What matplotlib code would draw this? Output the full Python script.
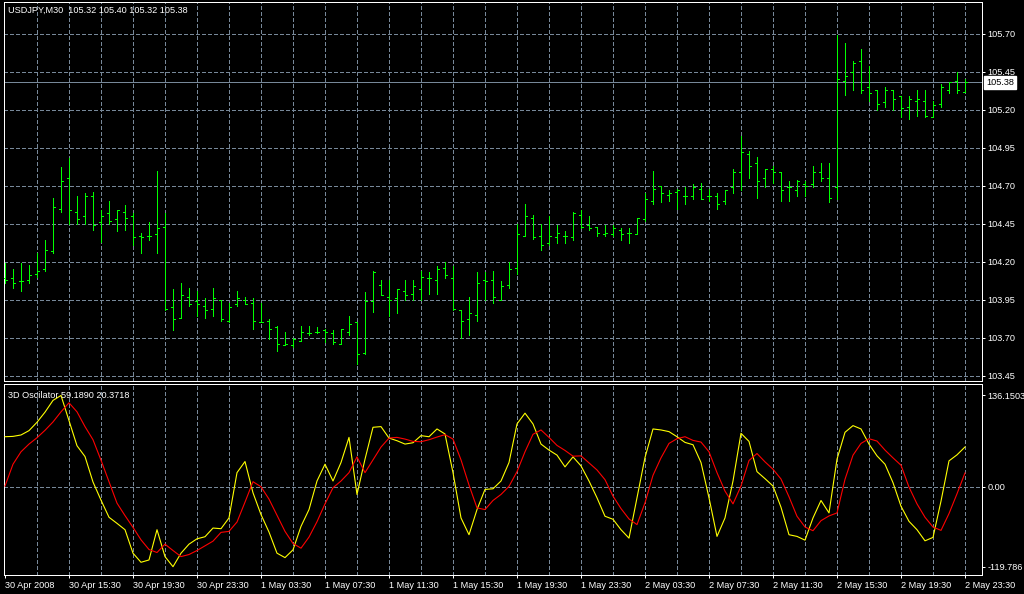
import matplotlib
matplotlib.use("Agg")
import matplotlib.pyplot as plt
from matplotlib.collections import LineCollection
import numpy as np

plt.rcParams['font.family'] = ['Liberation Sans', 'DejaVu Sans']

symbol_title = "USDJPY,M30"
osc_title = "3D Oscilator"

time_labels = ["30 Apr 2008", "30 Apr 15:30", "30 Apr 19:30", "30 Apr 23:30",
               "1 May 03:30", "1 May 07:30", "1 May 11:30", "1 May 15:30",
               "1 May 19:30", "1 May 23:30", "2 May 03:30", "2 May 07:30",
               "2 May 11:30", "2 May 15:30", "2 May 19:30", "2 May 23:30"]

opens = [104.09, 104.09, 104.07, 104.08, 104.12, 104.15, 104.27, 104.55, 104.75, 104.53,
         104.50, 104.63, 104.46, 104.52, 104.48, 104.53, 104.50, 104.37, 104.37, 104.38,
         104.43, 103.90, 103.83, 103.97, 103.94, 103.91, 103.89, 103.95, 103.81, 103.92,
         103.95, 103.93, 103.80, 103.81, 103.77, 103.65, 103.65, 103.68, 103.73, 103.74,
         103.75, 103.73, 103.66, 103.74, 103.80, 103.60, 103.94, 104.05, 103.97, 103.96,
         104.01, 103.99, 104.02, 104.09, 104.08, 104.16, 104.09, 103.88, 103.82, 103.85,
         104.08, 104.08, 103.95, 104.05, 104.16, 104.37, 104.49, 104.37, 104.32, 104.36,
         104.37, 104.36, 104.51, 104.44, 104.43, 104.38, 104.38, 104.41, 104.39, 104.38,
         104.48, 104.60, 104.70, 104.64, 104.66, 104.63, 104.63, 104.68, 104.63, 104.63,
         104.60, 104.69, 104.79, 104.91, 104.85, 104.75, 104.81, 104.79, 104.69, 104.67,
         104.71, 104.71, 104.79, 104.75, 104.69, 105.39, 105.45, 105.52, 105.35, 105.33,
         105.25, 105.33, 105.29, 105.22, 105.26, 105.26, 105.15, 105.24, 105.33, 105.39,
         105.32]
highs = [104.19, 104.15, 104.19, 104.18, 104.26, 104.34, 104.62, 104.82, 104.88, 104.63,
         104.65, 104.66, 104.54, 104.60, 104.54, 104.57, 104.52, 104.39, 104.46, 104.80,
         104.52, 104.02, 104.06, 104.03, 104.01, 103.96, 104.03, 103.95, 103.93, 104.01,
         103.97, 103.96, 103.93, 103.82, 103.78, 103.74, 103.70, 103.78, 103.78, 103.77,
         103.76, 103.75, 103.76, 103.84, 103.80, 104.00, 104.14, 104.08, 104.08, 104.02,
         104.08, 104.08, 104.14, 104.13, 104.17, 104.20, 104.17, 103.88, 103.97, 104.13,
         104.13, 104.14, 104.07, 104.20, 104.45, 104.58, 104.51, 104.45, 104.50, 104.44,
         104.40, 104.53, 104.54, 104.50, 104.43, 104.44, 104.44, 104.42, 104.42, 104.49,
         104.65, 104.80, 104.70, 104.67, 104.68, 104.69, 104.71, 104.72, 104.68, 104.65,
         104.67, 104.81, 105.03, 104.93, 104.89, 104.81, 104.83, 104.79, 104.73, 104.74,
         104.73, 104.83, 104.85, 104.85, 105.69, 105.64, 105.52, 105.60, 105.49, 105.33,
         105.35, 105.33, 105.29, 105.29, 105.33, 105.33, 105.26, 105.37, 105.38, 105.45,
         105.40]
lows = [104.06, 104.03, 104.01, 104.06, 104.10, 104.14, 104.26, 104.53, 104.45, 104.45,
        104.45, 104.41, 104.33, 104.45, 104.40, 104.41, 104.31, 104.26, 104.34, 104.26,
        103.88, 103.75, 103.83, 103.91, 103.84, 103.83, 103.84, 103.81, 103.80, 103.91,
        103.92, 103.76, 103.80, 103.69, 103.61, 103.65, 103.64, 103.68, 103.72, 103.73,
        103.67, 103.66, 103.66, 103.72, 103.53, 103.59, 103.87, 103.98, 103.84, 103.86,
        103.95, 103.95, 103.95, 103.99, 103.99, 104.09, 103.88, 103.70, 103.72, 103.81,
        103.95, 103.93, 103.95, 104.03, 104.12, 104.37, 104.35, 104.28, 104.31, 104.32,
        104.32, 104.34, 104.42, 104.41, 104.37, 104.37, 104.37, 104.34, 104.32, 104.38,
        104.47, 104.58, 104.59, 104.60, 104.55, 104.58, 104.61, 104.61, 104.60, 104.55,
        104.58, 104.65, 104.67, 104.75, 104.62, 104.69, 104.72, 104.60, 104.60, 104.63,
        104.63, 104.69, 104.73, 104.59, 104.61, 105.30, 105.33, 105.31, 105.26, 105.20,
        105.22, 105.20, 105.15, 105.14, 105.16, 105.15, 105.15, 105.22, 105.31, 105.31,
        105.32]
closes = [104.08, 104.06, 104.07, 104.11, 104.14, 104.28, 104.56, 104.73, 104.54, 104.48,
          104.63, 104.44, 104.50, 104.47, 104.54, 104.49, 104.36, 104.36, 104.37, 104.42,
          103.89, 103.82, 103.98, 103.92, 103.92, 103.88, 103.96, 103.82, 103.90, 103.96,
          103.92, 103.81, 103.80, 103.76, 103.66, 103.66, 103.69, 103.74, 103.73, 103.74,
          103.74, 103.67, 103.76, 103.79, 103.59, 103.94, 104.13, 103.98, 103.95, 104.02,
          103.98, 104.04, 104.10, 104.09, 104.15, 104.11, 103.89, 103.81, 103.86, 104.06,
          104.07, 103.97, 104.04, 104.15, 104.38, 104.50, 104.36, 104.31, 104.37, 104.39,
          104.37, 104.52, 104.43, 104.42, 104.39, 104.39, 104.42, 104.38, 104.39, 104.49,
          104.61, 104.68, 104.65, 104.65, 104.67, 104.63, 104.69, 104.61, 104.63, 104.58,
          104.67, 104.79, 104.92, 104.83, 104.73, 104.81, 104.79, 104.67, 104.69, 104.73,
          104.70, 104.79, 104.75, 104.62, 105.40, 105.42, 105.51, 105.33, 105.31, 105.24,
          105.33, 105.27, 105.21, 105.27, 105.27, 105.16, 105.23, 105.35, 105.38, 105.33,
          105.38]

osc_yellow = [74.5, 75.0, 77.1, 83.6, 96.1, 111.2, 128.8, 136.1503, 98.6, 61.0,
              44.9, 6.8, -20.3, -45.9, -55.0, -64.5, -99.6, -113.2, -109.7, -64.5,
              -104.7, -119.786, -99.6, -86.1, -78.1, -75.0, -62.0, -63.0, -46.9, 20.8,
              37.4, -9.3, -41.9, -68.0, -99.6, -106.2, -94.6, -59.5, -34.4, 8.3,
              33.4, 8.3, 35.9, 73.5, -11.8, 40.9, 88.6, 89.6, 72.5, 68.5,
              63.5, 65.5, 76.1, 74.5, 86.1, 78.6, 20.8, -46.9, -72.0, -34.4,
              -4.3, -3.3, 8.3, 35.9, 93.6, 109.7, 93.6, 63.5, 54.5, 47.0,
              29.4, 44.4, 30.9, 8.3, -16.8, -44.4, -48.9, -64.5, -77.1, -16.8,
              43.4, 86.1, 84.6, 82.1, 74.5, 66.0, 62.5, 35.9, -16.8, -74.5,
              -46.9, 8.3, 79.6, 67.5, 22.3, 11.8, 0.8, -30.9, -72.0, -74.5,
              -80.1, -46.9, -20.8, -39.4, 40.9, 81.1, 91.1, 86.1, 63.5, 45.9,
              33.4, 5.8, -29.4, -52.0, -64.5, -81.1, -76.0, -21.8, 38.4, 47.4,
              59.1890]
osc_red = [0.8, 33.4, 52.0, 63.5, 73.0, 84.1, 96.6, 111.7, 125.2, 111.7,
           89.6, 70.0, 39.4, 7.3, -24.8, -43.4, -61.0, -79.6, -94.1, -98.6,
           -86.1, -95.6, -104.7, -101.6, -95.6, -88.6, -81.6, -68.5, -67.0, -53.0,
           -23.3, 7.3, -0.3, -18.8, -42.9, -67.0, -85.1, -92.1, -75.5, -52.5,
           -25.9, -1.8, 8.3, 20.8, 44.4, 20.8, 39.9, 59.0, 72.5, 73.5,
           71.0, 67.5, 67.0, 70.0, 74.0, 77.6, 71.0, 39.9, 2.3, -31.9,
           -34.4, -20.8, -11.8, 0.3, 22.3, 52.0, 78.1, 84.6, 73.5, 61.5,
           54.0, 45.4, 45.9, 35.4, 24.8, 10.3, -14.3, -32.9, -48.4, -56.9,
           -24.3, 16.8, 42.9, 64.5, 71.5, 74.5, 69.0, 66.5, 52.0, 20.8,
           -6.8, -25.9, 0.8, 38.9, 49.4, 36.9, 25.9, 11.3, -15.3, -44.4,
           -60.5, -66.0, -51.0, -43.9, -39.4, 10.8, 46.9, 64.5, 71.5, 68.0,
           54.5, 42.9, 31.9, -0.8, -25.9, -45.9, -60.5, -65.5, -40.4, -10.8,
           20.3718]

price_ticks = [103.45, 103.70, 103.95, 104.20, 104.45, 104.70, 104.95, 105.20, 105.45, 105.70]
osc_ticks = [136.1503, 0.0, -119.786]
osc_tick_labels = ["136.1503", "0.00", "-119.786"]

# ---------------- figure ----------------
W, H = 1024, 594
fig = plt.figure(figsize=(W / 100, H / 100), dpi=100, facecolor='black')

def px_axes(left, top, right, bottom):
    return fig.add_axes([left / W, 1 - bottom / H, (right - left) / W, (bottom - top) / H])

ax1 = px_axes(4, 2, 982, 381)
ax2 = px_axes(4, 384, 982, 575)

GRID = '#778899'
FS = 6.6
LW = 0.72
dash = (0, (3, 2.5))

n = len(closes)
xs = np.arange(n)
tk = 0.3

for ax in (ax1, ax2):
    ax.set_facecolor('black')
    for s in ax.spines.values():
        s.set_color('white')
        s.set_linewidth(LW)
    ax.set_xlim(-0.125, 122.125)
    for gx in range(4, n, 4):
        ax.axvline(gx, color=GRID, lw=LW, linestyle=dash, antialiased=False, zorder=1)

# price panel
ax1.set_ylim(103.415, 105.909)
for p in price_ticks:
    ax1.axhline(p, color=GRID, lw=LW, linestyle=dash, antialiased=False, zorder=1)
ax1.axhline(closes[-1], color=GRID, lw=LW, antialiased=False, zorder=1.5)

segs = []
for i in range(n):
    segs.append([(xs[i], lows[i]), (xs[i], highs[i])])
    segs.append([(xs[i] - tk, opens[i]), (xs[i], opens[i])])
    segs.append([(xs[i], closes[i]), (xs[i] + tk, closes[i])])
ax1.add_collection(LineCollection(segs, colors='#00ff00', linewidths=LW,
                                  antialiaseds=False, zorder=3))

ax1.yaxis.tick_right()
ax1.set_yticks(price_ticks)
ax1.set_yticklabels([f"{p:.2f}" for p in price_ticks])
ax1.set_xticks([])
ax1.tick_params(axis='y', colors='white', labelcolor='white', labelsize=FS,
                length=2.2, width=LW, pad=1.5)

ax1.annotate(f"{closes[-1]:.2f}", xy=(1.0, closes[-1]), xycoords=('axes fraction', 'data'),
             xytext=(4, 0), textcoords='offset pixels', ha='left', va='center',
             fontsize=FS, color='black',
             bbox=dict(boxstyle='square,pad=0.2', fc='white', ec='white'),
             annotation_clip=False, zorder=5)

ax1.text(4 / 978, 1 - 8.5 / 379,
         f"{symbol_title}  {opens[-1]:.2f} {highs[-1]:.2f} {lows[-1]:.2f} {closes[-1]:.2f}",
         transform=ax1.transAxes, ha='left', va='center', color='white', fontsize=FS, zorder=6)

# oscillator panel
ax2.set_ylim(-132.2, 153.3)
ax2.axhline(0, color=GRID, lw=LW, linestyle=dash, antialiased=False, zorder=1)
ax2.plot(xs, osc_yellow, color='#ffff00', lw=0.8, antialiased=True, zorder=3)
ax2.plot(xs, osc_red, color='#ff0000', lw=0.8, antialiased=True, zorder=4)

ax2.yaxis.tick_right()
ax2.set_yticks(osc_ticks)
ax2.set_yticklabels(osc_tick_labels)
ax2.tick_params(axis='y', colors='white', labelcolor='white', labelsize=FS,
                length=2.2, width=LW, pad=1.5)

ax2.set_xticks(list(range(0, n, 8)))
ax2.set_xticklabels(time_labels)
ax2.tick_params(axis='x', colors='white', labelcolor='white', labelsize=FS,
                length=2.5, width=LW, pad=1.5)
for lab in ax2.get_xticklabels():
    lab.set_horizontalalignment('left')

ax2.text(4 / 978, 1 - 11 / 191,
         f"{osc_title} {osc_yellow[-1]:.4f} {osc_red[-1]:.4f}",
         transform=ax2.transAxes, ha='left', va='center', color='white', fontsize=FS, zorder=6)

fig.savefig('out.png', dpi=100, facecolor='black')
